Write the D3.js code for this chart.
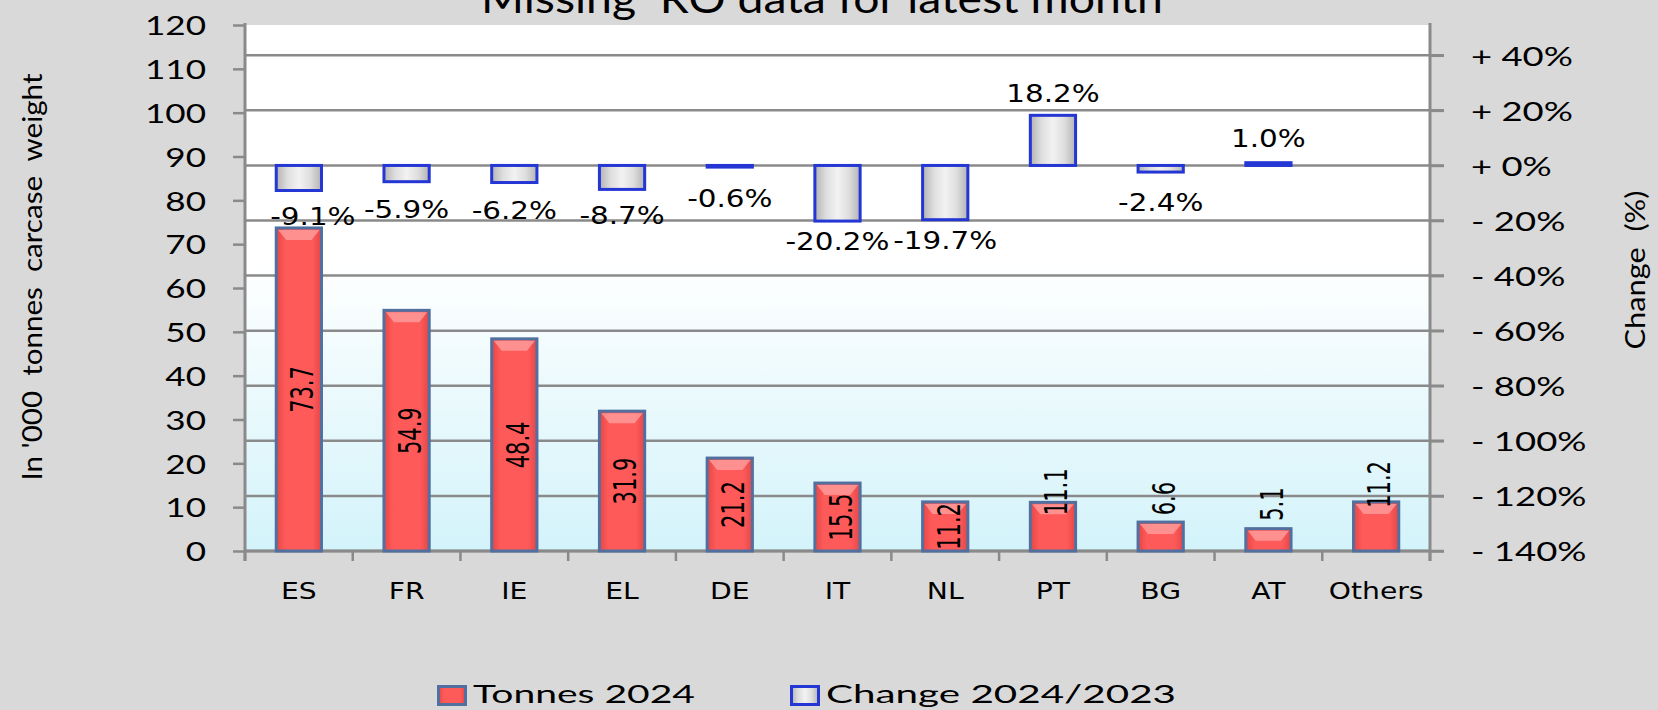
<!DOCTYPE html>
<html>
<head>
<meta charset="utf-8">
<script src="https://cdn.jsdelivr.net/npm/d3@7"></script>
<style>
  html, body { margin: 0; padding: 0; background: #d9d9d9; }
  svg { display: block; }
  text { fill: #000; }
</style>
</head>
<body>
<div id="main"></div>
<script>
// data
var categories = ["ES", "FR", "IE", "EL", "DE", "IT", "NL", "PT", "BG", "AT", "Others"];
var tonnes2024 = [73.7, 54.9, 48.4, 31.9, 21.2, 15.5, 11.2, 11.1, 6.6, 5.1, 11.2];
var change2024 = [-9.1, -5.9, -6.2, -8.7, -0.6, -20.2, -19.7, 18.2, -2.4, 1.0, null];
var leftTicks = [0, 10, 20, 30, 40, 50, 60, 70, 80, 90, 100, 110, 120];
var rightTicks = [40, 20, 0, -20, -40, -60, -80, -100, -120, -140];
var seriesNames = ["Tonnes 2024", "Change 2024/2023"];
var titleText = "Missing  RO data for latest month";
var leftTitle = "In '000  tonnes  carcase  weight";
var rightTitle = "Change  (%)";

// label nudges for labels that were moved by hand in the original
var tonnesLabelNudge = { PT: 13, Others: 6, BG: 0, AT: -1 };   // label bottom vs bar top
var changeLabelNudgeX = { ES: 14 };

var W = 1658, H = 710;
var plot = { left: 245, right: 1430, top: 25, bottom: 551 };

var fmt1 = v => d3.format(".1f")(v).replace("\u2212", "-");

var svg = d3.select("#main")
  .append("svg")
  .attr("width", W)
  .attr("height", H);

var defs = svg.append("defs");

var bg = defs.append("linearGradient").attr("id", "plotBg")
  .attr("x1", 0).attr("y1", 0).attr("x2", 0).attr("y2", 1);
bg.append("stop").attr("offset", "0%").attr("stop-color", "#ffffff");
bg.append("stop").attr("offset", "45%").attr("stop-color", "#ffffff");
bg.append("stop").attr("offset", "100%").attr("stop-color", "#d3f3fa");

var red = defs.append("linearGradient").attr("id", "redFill")
  .attr("x1", 0).attr("y1", 0).attr("x2", 1).attr("y2", 0);
red.append("stop").attr("offset", "0%").attr("stop-color", "#e54646");
red.append("stop").attr("offset", "20%").attr("stop-color", "#ff5a5a");
red.append("stop").attr("offset", "80%").attr("stop-color", "#ff5a5a");
red.append("stop").attr("offset", "100%").attr("stop-color", "#e54646");

var grey = defs.append("linearGradient").attr("id", "greyFill")
  .attr("x1", 0).attr("y1", 0).attr("x2", 1).attr("y2", 0);
grey.append("stop").attr("offset", "0%").attr("stop-color", "#b3b3b3");
grey.append("stop").attr("offset", "25%").attr("stop-color", "#dedede");
grey.append("stop").attr("offset", "50%").attr("stop-color", "#f2f2f2");
grey.append("stop").attr("offset", "75%").attr("stop-color", "#dedede");
grey.append("stop").attr("offset", "100%").attr("stop-color", "#b3b3b3");

var x = d3.scaleBand()
  .domain(categories)
  .range([plot.left, plot.right])
  .paddingInner(0.58)
  .paddingOuter(0.29);

var band = d3.scaleBand().domain(categories).range([plot.left, plot.right]);

var y = d3.scaleLinear().domain([0, 120]).range([plot.bottom, plot.top]);
var y2 = d3.scaleLinear().domain([-140, 51]).range([plot.bottom, plot.top]);

// plot area
svg.append("rect")
  .attr("x", plot.left).attr("y", plot.top)
  .attr("width", plot.right - plot.left)
  .attr("height", plot.bottom - plot.top)
  .attr("fill", "url(#plotBg)");

// gridlines follow the right (percent) axis
svg.append("g")
  .selectAll("line")
  .data(rightTicks)
  .enter()
  .append("line")
  .attr("x1", plot.left).attr("x2", plot.right + 14)
  .attr("y1", d => y2(d)).attr("y2", d => y2(d))
  .attr("stroke", "#8a8a8a")
  .attr("stroke-width", 2.5);

// left axis
var gl = svg.append("g").attr("transform", "translate(" + plot.left + ",0)");
gl.call(d3.axisLeft(y).tickValues(leftTicks).tickSize(12).tickFormat(d3.format("d")));
gl.select(".domain").remove();
gl.selectAll(".tick line").attr("stroke", "#8a8a8a").attr("stroke-width", 2.5);
gl.selectAll(".tick text").remove();
gl.selectAll(".tick")
  .append("text")
  .attr("transform", "translate(-39,0) scale(1.3,1)")
  .attr("text-anchor", "end")
  .attr("dy", "0.36em")
  .style("font-family", "Lato")
  .style("font-size", "27px")
  .text(d => d);
svg.append("line")
  .attr("x1", plot.left).attr("x2", plot.left)
  .attr("y1", plot.top - 2).attr("y2", plot.bottom + 10)
  .attr("stroke", "#8a8a8a").attr("stroke-width", 3);

// right axis
var gr = svg.append("g").attr("transform", "translate(" + plot.right + ",0)");
gr.call(d3.axisRight(y2).tickValues(rightTicks).tickSize(14));
gr.select(".domain").remove();
gr.selectAll(".tick line").attr("stroke", "#8a8a8a").attr("stroke-width", 2.5);
gr.selectAll(".tick text").remove();
gr.selectAll(".tick")
  .append("text")
  .attr("transform", "translate(41,0) scale(1.35,1)")
  .attr("text-anchor", "start")
  .attr("dy", "0.36em")
  .style("font-family", "Lato")
  .style("font-size", "27px")
  .style("white-space", "pre")
  .text(d => (d >= 0 ? "+ " : "- ") + Math.abs(d) + "%");
svg.append("line")
  .attr("x1", plot.right).attr("x2", plot.right)
  .attr("y1", plot.top - 2).attr("y2", plot.bottom + 10)
  .attr("stroke", "#8a8a8a").attr("stroke-width", 3);

// bottom axis
var gb = svg.append("g").attr("transform", "translate(0," + plot.bottom + ")");
gb.append("line")
  .attr("x1", plot.left).attr("x2", plot.right)
  .attr("stroke", "#8a8a8a").attr("stroke-width", 3);
gb.selectAll(".sep")
  .data(categories.concat([null]))
  .enter()
  .append("line")
  .attr("x1", (d, i) => i < categories.length ? band(d) : plot.right)
  .attr("x2", (d, i) => i < categories.length ? band(d) : plot.right)
  .attr("y1", 0).attr("y2", 10)
  .attr("stroke", "#8a8a8a").attr("stroke-width", 2.5);
gb.selectAll(".cat")
  .data(categories)
  .enter()
  .append("text")
  .attr("transform", d => "translate(" + (band(d) + band.bandwidth() / 2) + ",48) scale(1.2,1)")
  .attr("text-anchor", "middle")
  .style("font-family", "DejaVu Sans")
  .style("font-size", "23.5px")
  .text(d => d);

// tonnes bars
var rows = categories.map((c, i) => ({ cat: c, t: tonnes2024[i], ch: change2024[i] }));

svg.append("g")
  .selectAll("rect")
  .data(rows)
  .enter()
  .append("rect")
  .attr("x", d => x(d.cat))
  .attr("width", x.bandwidth())
  .attr("y", d => y(d.t))
  .attr("height", d => y(0) - y(d.t))
  .attr("fill", "url(#redFill)")
  .attr("stroke", "#52709f")
  .attr("stroke-width", 3);

// top bevel on the red bars
svg.append("g")
  .selectAll("path")
  .data(rows)
  .enter()
  .append("path")
  .attr("d", d => {
    var x0 = x(d.cat) + 2, x1 = x(d.cat) + x.bandwidth() - 2, t = y(d.t) + 2;
    return "M" + x0 + "," + t + "L" + x1 + "," + t + "L" + (x1 - 8) + "," + (t + 10) + "L" + (x0 + 8) + "," + (t + 10) + "Z";
  })
  .attr("fill", "#ff9d9d")
  .attr("opacity", 0.8);

// change boxes
var chRows = rows.filter(d => d.ch !== null);
svg.append("g")
  .selectAll("rect")
  .data(chRows)
  .enter()
  .append("rect")
  .attr("x", d => x(d.cat))
  .attr("width", x.bandwidth())
  .attr("y", d => Math.min(y2(0), y2(d.ch)))
  .attr("height", d => Math.abs(y2(d.ch) - y2(0)))
  .attr("fill", "url(#greyFill)")
  .attr("stroke", "#2436d4")
  .attr("stroke-width", 3);

// tonnes labels (rotated)
svg.append("g")
  .selectAll("text")
  .data(rows)
  .enter()
  .append("text")
  .attr("transform", d => {
    var cy;
    if (d.cat in tonnesLabelNudge) {
      cy = y(d.t) + tonnesLabelNudge[d.cat] - 23.5;
    } else {
      cy = (y(d.t) + y(0)) / 2;
    }
    var cx = x(d.cat) + x.bandwidth() / 2 + 3;
    return "translate(" + cx + "," + cy + ") rotate(-90) scale(1,1.5)";
  })
  .attr("text-anchor", "middle")
  .attr("dy", "0.36em")
  .style("font-family", "DejaVu Sans")
  .style("font-size", "21px")
  .text(d => fmt1(d.t));

// change labels: the gap to the box end shrinks a little for the longer boxes
svg.append("g")
  .selectAll("text")
  .data(chRows)
  .enter()
  .append("text")
  .attr("transform", d => {
    var len = Math.abs(y2(d.ch) - y2(0));
    var cy = d.ch < 0 ? y2(d.ch) + 31 - 0.2 * len : y2(d.ch) - 25 + 0.06 * len;
    var cx = x(d.cat) + x.bandwidth() / 2 + (changeLabelNudgeX[d.cat] || 0);
    return "translate(" + cx + "," + cy + ") scale(1.2,1)";
  })
  .attr("text-anchor", "middle")
  .attr("dy", "0.36em")
  .style("font-family", "DejaVu Sans")
  .style("font-size", "24.5px")
  .text(d => fmt1(d.ch) + "%");

// titles
svg.append("text")
  .attr("x", 822).attr("y", 13)
  .attr("text-anchor", "middle")
  .attr("textLength", 682)
  .attr("lengthAdjust", "spacingAndGlyphs")
  .style("font-family", "Lato")
  .style("font-size", "40px")
  .style("white-space", "pre")
  .text(titleText);

svg.append("text")
  .attr("transform", "translate(42,277) rotate(-90)")
  .attr("text-anchor", "middle")
  .attr("textLength", 407)
  .attr("lengthAdjust", "spacingAndGlyphs")
  .style("font-family", "Lato")
  .style("font-size", "26px")
  .style("white-space", "pre")
  .text(leftTitle);

svg.append("text")
  .attr("transform", "translate(1645,270) rotate(-90)")
  .attr("text-anchor", "middle")
  .attr("textLength", 159)
  .attr("lengthAdjust", "spacingAndGlyphs")
  .style("font-family", "Lato")
  .style("font-size", "26px")
  .style("white-space", "pre")
  .text(rightTitle);

// legend
var legendX = [437, 790];
var legendW = [222, 350];
var legend = svg.append("g")
  .selectAll("g")
  .data(seriesNames)
  .enter()
  .append("g")
  .attr("transform", (d, i) => "translate(" + legendX[i] + ",685)");
legend.append("rect")
  .attr("x", 1.5).attr("y", 1.5)
  .attr("width", 27).attr("height", 18)
  .attr("fill", (d, i) => i === 0 ? "url(#redFill)" : "url(#greyFill)")
  .attr("stroke", (d, i) => i === 0 ? "#52709f" : "#2436d4")
  .attr("stroke-width", 3);
legend.append("text")
  .attr("x", 36).attr("y", 18)
  .attr("textLength", (d, i) => legendW[i])
  .attr("lengthAdjust", "spacingAndGlyphs")
  .style("font-family", "Lato")
  .style("font-size", "25.5px")
  .text(d => d);
</script>
</body>
</html>
